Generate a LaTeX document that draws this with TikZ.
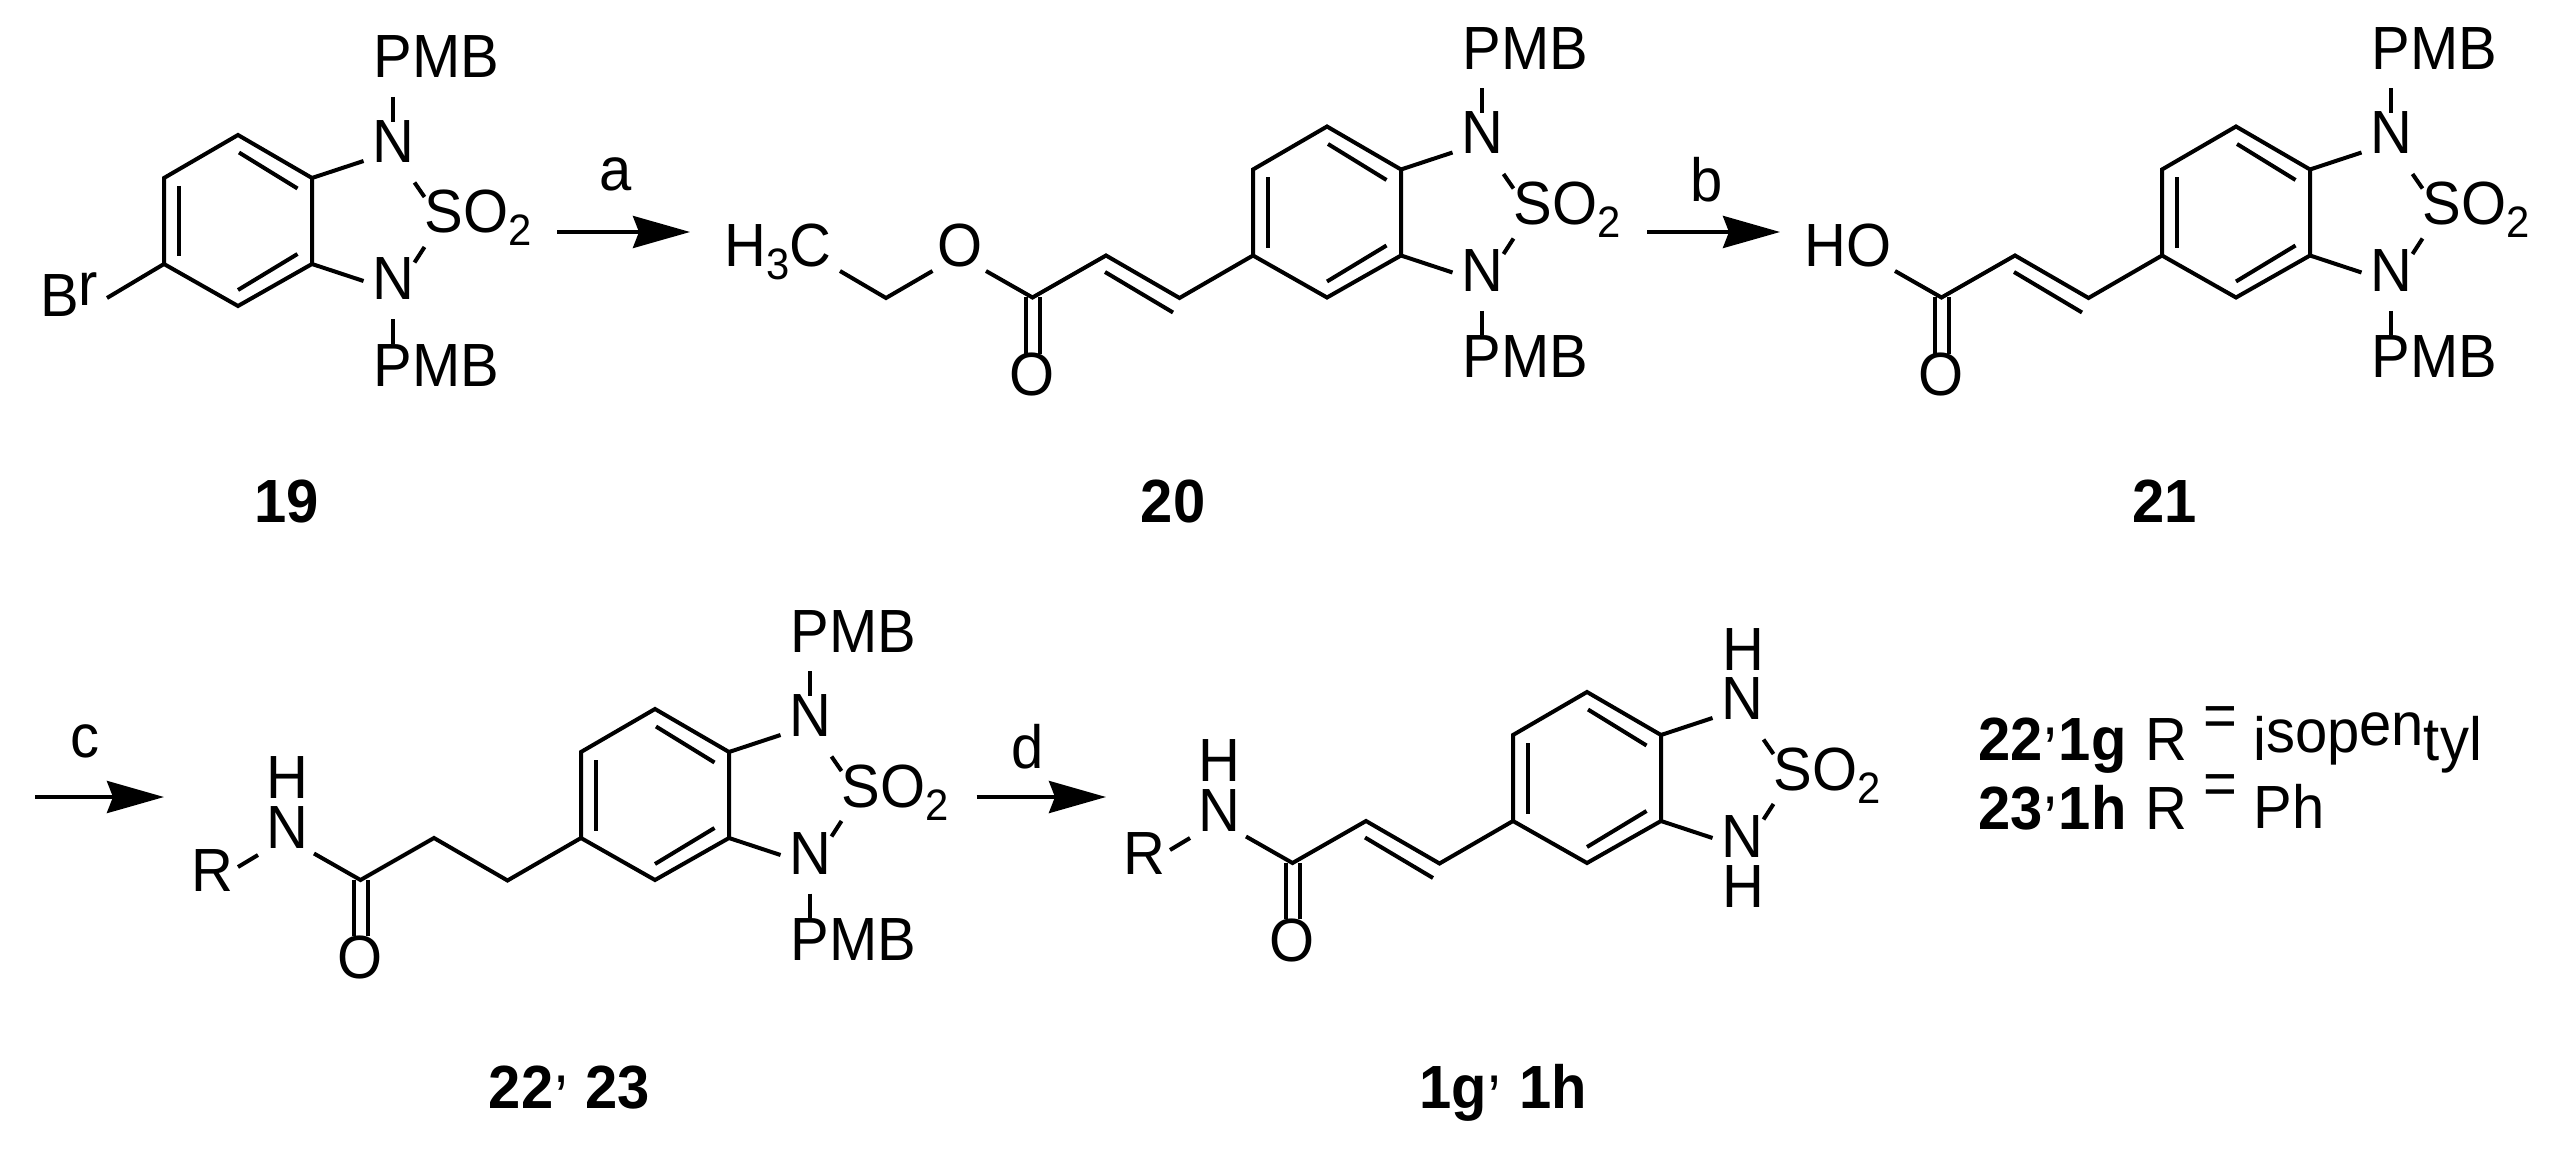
\documentclass[tikz,border=0pt]{standalone}
\usepackage{fontspec}
\setmainfont{Liberation Sans}[FakeStretch=0.95]
\usetikzlibrary{arrows.meta}
\newcommand{\subnum}[1]{\raisebox{-13pt}{\fontsize{44}{44}\selectfont #1}}
\newcommand{\upcomma}{\raisebox{26pt}{\fontseries{m}\selectfont,}}
\tikzset{
    bond/.style={line width=4pt},
    rxn/.style={line width=4pt, -{Stealth[length=57pt, width=32pt, inset=6pt]}},
    atom/.style={inner sep=0pt, text height=42pt, text depth=0pt, font=\fontsize{61}{63}\selectfont},
    lab/.style={inner sep=0pt, anchor=base west, font=\fontsize{61}{63}\selectfont},
    cmpd/.style={inner sep=0pt, anchor=base, font=\fontsize{61}{63}\selectfont\bfseries},
    % benzo ring with the N-SO2-N part
    pics/core/.style={code={
        \coordinate (-a) at (0,-86); \coordinate (-b) at (-74,-43); \coordinate (-c) at (-74,43);
        \coordinate (-d) at (0,85); \coordinate (-e) at (74,43); \coordinate (-f) at (74,-43);
        \draw[bond] (-a) -- (-b) -- (-c) -- (-d) -- (-e) -- (-f) -- cycle;
        \coordinate (-i1) at (1,-68.5); \coordinate (-i2) at (59.5,-32.5);
        \coordinate (-i3) at (-59,-35); \coordinate (-i4) at (-59,35.5);
        \coordinate (-i5) at (0,69); \coordinate (-i6) at (59.5,33);
        \draw[bond] (-i1) -- (-i2);
        \draw[bond] (-i3) -- (-i4);
        \draw[bond] (-i5) -- (-i6);
        \node[atom] (-nt) at (155.5,-79.5) {N};
        \node[atom] (-nb) at (155.5,58) {N};
        \node[atom, anchor=west] (-so) at (186.5,-9) {SO\subnum{2}};
        \coordinate (-g) at (125.5,-60); \coordinate (-h) at (125.5,60);
        \draw[bond] (-f) -- (-g);
        \draw[bond] (-e) -- (-h);
        \coordinate (-s1) at (176.5,-38.5); \coordinate (-s2) at (186.5,-24);
        \coordinate (-s3) at (186.5,26); \coordinate (-s4) at (176.5,41.5);
        \draw[bond] (-s1) -- (-s2);
        \draw[bond] (-s3) -- (-s4);
    }},
    % the two protecting groups
    pics/pmb/.style={code={
        \node[atom] (-pt) at (198.5,-164) {PMB};
        \node[atom] (-pb) at (198.5,144) {PMB};
        \coordinate (-t1) at (155,-124); \coordinate (-t2) at (155,-99);
        \coordinate (-b1) at (155,98.5); \coordinate (-b2) at (155,123);
        \draw[bond] (-t1) -- (-t2);
        \draw[bond] (-b1) -- (-b2);
    }},
    % side chain up to the C=O
    pics/tail/.style={code={
        \coordinate (-u1) at (-147.5,85.5); \coordinate (-u2) at (-221,43); \coordinate (-u3) at (-294.5,85);
        \coordinate (-u4) at (-341,58.5);
        \draw[bond] (-c) -- (-u1) -- (-u2) -- (-u3) -- (-u4);
        \node[atom] (-co) at (-294.5,162) {O};
        \coordinate (-o1) at (-301.5,85); \coordinate (-o2) at (-301.5,141);
        \coordinate (-o3) at (-287.5,85); \coordinate (-o4) at (-287.5,141);
        \draw[bond] (-o1) -- (-o2);
        \draw[bond] (-o3) -- (-o4);
    }},
    pics/vinyl/.style={code={
        \coordinate (-v1) at (-222,59.5); \coordinate (-v2) at (-154,100);
        \draw[bond] (-v1) -- (-v2);
    }},
    % R-NH end of the amides
    pics/amide/.style={code={
        \node[atom] (-n) at (-367.5,32) {N};
        \node[atom] (-nh) at (-367.5,-17.5) {H};
        \node[atom] (-r) at (-443,75) {R};
        \coordinate (-r1) at (-417,72); \coordinate (-r2) at (-397,60);
        \draw[bond] (-r1) -- (-r2);
    }}
}

\begin{document}
\begin{tikzpicture}[x=1pt, y=-1pt]
    \useasboundingbox (0,0) rectangle (2555,1155);

    % 19
    \pic (m19) at (238,221) {core};
    \pic (m19) at (238,221) {pmb};
    \node[atom, anchor=west] (br) at (40,296) {B\raisebox{11pt}{r}};
    \coordinate (brend) at (107,298);
    \draw[bond] (m19-c) -- (brend);
    \node[cmpd] (n19) at (287,522) {19};

    % 20
    \pic (m20) at (1327,212.5) {core};
    \pic (m20) at (1327,212.5) {pmb};
    \pic (m20) at (1327,212.5) {tail};
    \pic (m20) at (1327,212.5) {vinyl};
    \node[atom] (m20o) at (960,246) {O};
    \node[atom, anchor=west] (me) at (724.5,246) {H\subnum{3}C};
    \coordinate (et1) at (840,271);
    \coordinate (et2) at (886,298);
    \coordinate (et3) at (932.5,271);
    \draw[bond] (et1) -- (et2) -- (et3);
    \node[cmpd] (n20) at (1173,522) {20};

    % 21
    \pic (m21) at (2236,212.5) {core};
    \pic (m21) at (2236,212.5) {pmb};
    \pic (m21) at (2236,212.5) {tail};
    \pic (m21) at (2236,212.5) {vinyl};
    \node[atom, anchor=west] (ho) at (1804.5,246) {HO};
    \node[cmpd] (n21) at (2164.5,522) {21};

    % 22, 23
    \pic (m22) at (655,795) {core};
    \pic (m22) at (655,795) {pmb};
    \pic (m22) at (655,795) {tail};
    \pic (m22) at (655,795) {amide};
    \node[cmpd] (n22) at (569.5,1108) {22\upcomma\ 23};

    % 1g, 1h
    \pic (m1g) at (1587,778) {core};
    \pic (m1g) at (1587,778) {tail};
    \pic (m1g) at (1587,778) {vinyl};
    \pic (m1g) at (1587,778) {amide};
    \node[atom] (hta) at (1743,649) {H};
    \node[atom] (htb) at (1743,886) {H};
    \node[cmpd] (n1g) at (1503,1108) {1g\upcomma\ 1h};

    % Reaction arrows
    \coordinate (a1) at (557,232);
    \coordinate (a2) at (690,232);
    \coordinate (b1) at (1647,232);
    \coordinate (b2) at (1780,232);
    \coordinate (c1) at (35,797);
    \coordinate (c2) at (164,797);
    \coordinate (d1) at (976.5,797);
    \coordinate (d2) at (1106,797);
    \draw[rxn] (a1) -- (a2);
    \draw[rxn] (b1) -- (b2);
    \draw[rxn] (c1) -- (c2);
    \draw[rxn] (d1) -- (d2);
    \node[lab, anchor=base] (la) at (616,191) {a};
    \node[lab, anchor=base] (lb) at (1707,202) {b};
    \node[lab, anchor=base] (lc) at (85,757) {c};
    \node[lab, anchor=base] (ld) at (1027.5,768) {d};

    % R groups
    \node[cmpd, anchor=base west] (k1) at (1978,760) {22\upcomma 1g};
    \node[cmpd, anchor=base west] (k2) at (1978,829) {23\upcomma 1h};
    \node[lab] (ra) at (2145.5,760) {R};
    \node[lab] (rb) at (2145.5,829) {R};
    \node[lab, anchor=base] (eqa) at (2220,736) {=};
    \node[lab, anchor=base] (eqb) at (2220,804.5) {=};
    \node[lab] (ipe) at (2253,760) {i\raisebox{8pt}{sop}\raisebox{15pt}{en}tyl};
    \node[lab] (ph) at (2253.5,828) {Ph};
\end{tikzpicture}
\end{document}
